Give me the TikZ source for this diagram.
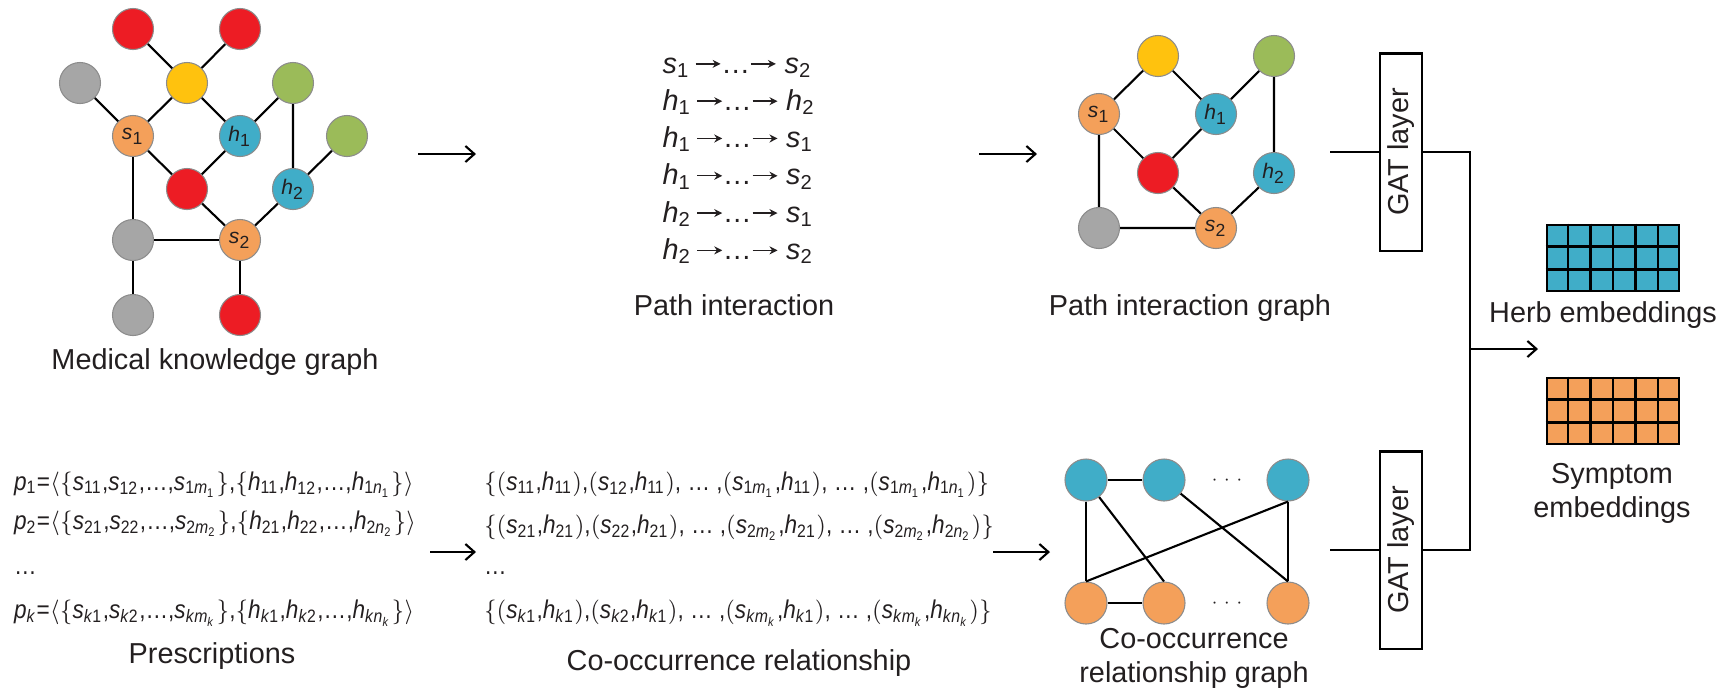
\documentclass[tikz,border=0pt]{standalone}
\usepackage{fontspec}
\setmainfont{Liberation Sans}
\usetikzlibrary{positioning, calc, arrows.meta}

\definecolor{cred}{HTML}{ED1C24}
\definecolor{cyellow}{HTML}{FFC20E}
\definecolor{cgray}{HTML}{A6A6A6}
\definecolor{cgreen}{HTML}{9BBB59}
\definecolor{corange}{HTML}{F4A05A}
\definecolor{cblue}{HTML}{40ADC8}
\definecolor{ctext}{HTML}{231F20}

\newcommand{\vs}[1]{\textit{s}\textsubscript{#1}}
\newcommand{\vh}[1]{\textit{h}\textsubscript{#1}}
\newcommand{\vp}[1]{\textit{p}\textsubscript{#1}}
\newcommand{\ix}[2]{\textit{#1}\textsubscript{#2}}
\newcommand{\sq}[1]{\scalebox{0.88}[1]{#1}}
\newcommand{\parr}{\tikz[baseline=-0.6ex, x=1cm, y=1cm]\draw[line width=0.4pt, -{Stealth[length=0.8mm, width=0.8mm]}] (0,0) -- (0.25,0);}

\tikzset{
  ent/.style={circle, draw=black!45, line width=0.3pt, minimum size=4.1mm, inner sep=0pt, font=\fontsize{6}{7}\selectfont},
  rednode/.style={ent, fill=cred},
  yellownode/.style={ent, fill=cyellow},
  graynode/.style={ent, fill=cgray},
  greennode/.style={ent, fill=cgreen},
  sympnode/.style={ent, fill=corange},
  herbnode/.style={ent, fill=cblue},
  lbl/.style={anchor=base, font=\fontsize{8.2}{9.6}\selectfont, align=center},
  row/.style={anchor=base west, inner sep=0pt, font=\fontsize{7.3}{8.5}\selectfont},
  gatbox/.style={draw, rotate=90, minimum width=1.97cm, minimum height=0.42cm, inner sep=0pt, font=\fontsize{8.2}{9.6}\selectfont},
  embbox/.style={draw, line width=0.8pt, minimum width=1.32cm, minimum height=0.66cm, inner sep=0pt}
}

\begin{document}
\begin{tikzpicture}[x=0.01cm, y=-0.01cm, line width=0.6pt, >={Straight Barb[length=0.9mm, width=1.6mm]},
  every node/.append style={text=ctext}]
    \useasboundingbox (0,0) rectangle (1733,690);

    % Medical knowledge graph
    \node[rednode] (kr1) at (133,29) {};
    \node[rednode] (kr2) at (240,29) {};
    \node[graynode] (kg1) at (80,83) {};
    \node[yellownode] (ky) at (187,83) {};
    \node[greennode] (kn1) at (293,83) {};
    \node[sympnode] (ks1) at (133,136) {\vs{1}};
    \node[herbnode] (kh1) at (240,136) {\vh{1}};
    \node[greennode] (kn2) at (347,136) {};
    \node[rednode] (kr3) at (187,189) {};
    \node[herbnode] (kh2) at (293,189) {\vh{2}};
    \node[graynode] (kg2) at (133,240) {};
    \node[sympnode] (ks2) at (240,240) {\vs{2}};
    \node[graynode] (kg3) at (133,315) {};
    \node[rednode] (kr4) at (240,315) {};
    \draw (kr1) -- (ky) -- (kr2);
    \draw (kg1) -- (ks1) -- (ky) -- (kh1) -- (kn1) -- (kh2) -- (kn2);
    \draw (ks1) -- (kr3) -- (kh1);
    \draw (kr3) -- (ks2) -- (kh2);
    \draw (ks1) -- (kg2) -- (ks2) -- (kr4);
    \draw (kg2) -- (kg3);
    \node[lbl] (kglabel) at (215,369) {Medical knowledge graph};

    % Path interaction
    \coordinate (a1s) at (418,154);
    \coordinate (a1e) at (476,154);
    \draw[->] (a1s) -- (a1e);
    \foreach \i/\a/\b in {1/\vs{1}/\vs{2}, 2/\vh{1}/\vh{2}, 3/\vh{1}/\vs{1},
                          4/\vh{1}/\vs{2}, 5/\vh{2}/\vs{1}, 6/\vh{2}/\vs{2}}
        \node[row, font=\fontsize{8.2}{9.6}\selectfont] (pi\i) at (662,{73+37.3*(\i-1)}) {\a\,\parr\ldots\parr\ \b};
    \node[lbl] (pilabel) at (734,315) {Path interaction};

    % Path interaction graph
    \coordinate (a2s) at (979,154);
    \coordinate (a2e) at (1037,154);
    \draw[->] (a2s) -- (a2e);
    \begin{scope}[every node/.append style={minimum size=4.4mm, font=\fontsize{6.2}{7}\selectfont}]
        \node[yellownode] (py) at (1158,56) {};
        \node[greennode] (pn) at (1274,56) {};
        \node[sympnode] (ps1) at (1099,114) {\vs{1}};
        \node[herbnode] (ph1) at (1216,114) {\vh{1}};
        \node[rednode] (pr) at (1158,173) {};
        \node[herbnode] (ph2) at (1274,173) {\vh{2}};
        \node[graynode] (pg) at (1099,228) {};
        \node[sympnode] (ps2) at (1216,228) {\vs{2}};
    \end{scope}
    \draw (ps1) -- (py) -- (ph1) -- (pn) -- (ph2) -- (ps2);
    \draw (ps1) -- (pr) -- (ph1);
    \draw (pr) -- (ps2) -- (pg) -- (ps1);
    \node[lbl] (piglabel) at (1190,315) {Path interaction graph};

    % Prescriptions
    \node[row] (pr1) at (13,490) {\sq{\vp{1}=$\langle\{$\vs{11},\vs{12},\ldots,\vs{1\ix{m}{1}}$\}$,$\{$\vh{11},\vh{12},\ldots,\vh{1\ix{n}{1}}$\}\rangle$}};
    \node[row] (pr2) at (13,529) {\sq{\vp{2}=$\langle\{$\vs{21},\vs{22},\ldots,\vs{2\ix{m}{2}}$\}$,$\{$\vh{21},\vh{22},\ldots,\vh{2\ix{n}{2}}$\}\rangle$}};
    \node[row] (pr3) at (13,574) {\sq{\ldots}};
    \node[row] (pr4) at (13,618) {\sq{\vp{\textit{k}}=$\langle\{$\vs{\textit{k}1},\vs{\textit{k}2},\ldots,\vs{\textit{k}\ix{m}{\textit{k}}}$\}$,$\{$\vh{\textit{k}1},\vh{\textit{k}2},\ldots,\vh{\textit{k}\ix{n}{\textit{k}}}$\}\rangle$}};
    \node[lbl] (prlabel) at (212,663) {Prescriptions};

    % Co-occurrence relationship
    \coordinate (a3s) at (430,552);
    \coordinate (a3e) at (476,552);
    \draw[->] (a3s) -- (a3e);
    \node[row] (co1) at (483,490) {\sq{$\{($\vs{11},\vh{11}$)$,$($\vs{12},\vh{11}$)$, \ldots\ ,$($\vs{1\ix{m}{1}},\vh{11}$)$, \ldots\ ,$($\vs{1\ix{m}{1}},\vh{1\ix{n}{1}}$)\}$}};
    \node[row] (co2) at (483,533) {\sq{$\{($\vs{21},\vh{21}$)$,$($\vs{22},\vh{21}$)$, \ldots\ ,$($\vs{2\ix{m}{2}},\vh{21}$)$, \ldots\ ,$($\vs{2\ix{m}{2}},\vh{2\ix{n}{2}}$)\}$}};
    \node[row] (co3) at (483,574) {\sq{\ldots}};
    \node[row] (co4) at (483,618) {\sq{$\{($\vs{\textit{k}1},\vh{\textit{k}1}$)$,$($\vs{\textit{k}2},\vh{\textit{k}1}$)$, \ldots\ ,$($\vs{\textit{k}\ix{m}{\textit{k}}},\vh{\textit{k}1}$)$, \ldots\ ,$($\vs{\textit{k}\ix{m}{\textit{k}}},\vh{\textit{k}\ix{n}{\textit{k}}}$)\}$}};
    \node[lbl] (colabel) at (739,670) {Co-occurrence relationship};

    % Co-occurrence relationship graph
    \coordinate (a4s) at (993,552);
    \coordinate (a4e) at (1050,552);
    \draw[->] (a4s) -- (a4e);
    \node[herbnode, minimum size=4.2mm] (cb1) at (1086,480) {};
    \node[herbnode, minimum size=4.2mm] (cb2) at (1164,480) {};
    \node[font=\fontsize{5}{6}\selectfont] (cd1) at (1227,480) {$\cdots$};
    \node[herbnode, minimum size=4.2mm] (cb3) at (1288,480) {};
    \node[sympnode, minimum size=4.2mm] (cs1) at (1086,603) {};
    \node[sympnode, minimum size=4.2mm] (cs2) at (1164,603) {};
    \node[font=\fontsize{5}{6}\selectfont] (cd2) at (1227,603) {$\cdots$};
    \node[sympnode, minimum size=4.2mm] (cs3) at (1288,603) {};
    \draw (cb1) -- (cb2);
    \draw (cs1) -- (cs2);
    \draw (cb1.south) -- (cs1.north);
    \draw (cb1) -- (cs2.north);
    \draw (cb2) -- (cs3.north);
    \draw (cb3.south) -- (cs1.north);
    \draw (cb3.south) -- (cs3.north);
    \node[lbl] (coglabel) at (1194,682) {Co-occurrence\\relationship graph};

    % GAT layers
    \node[gatbox] (gat1) at (1401,152) {GAT layer};
    \node[gatbox] (gat2) at (1401,550) {GAT layer};
    \coordinate (g1in) at (1330,152);
    \coordinate (g2in) at (1330,550);
    \coordinate (j1) at (1470,152);
    \coordinate (j2) at (1470,550);
    \coordinate (jm) at (1470,349);
    \coordinate (emb) at (1538,349);
    \draw (g1in) -- (gat1);
    \draw (g2in) -- (gat2);
    \draw (gat1) -- (j1) -- (j2) -- (gat2);
    \draw[->] (jm) -- (emb);

    % Embeddings
    \node[embbox, fill=cblue] (herbemb) at (1613,258) {};
    \node[embbox, fill=corange] (sympemb) at (1613,411) {};
    \foreach \e in {herbemb, sympemb} {
        \foreach \k in {1,...,5}
            \draw[line width=0.8pt] ($(\e.north west)!\k/6!(\e.north east)$) -- ($(\e.south west)!\k/6!(\e.south east)$);
        \foreach \k in {1,2}
            \draw[line width=0.8pt] ($(\e.north west)!\k/3!(\e.south west)$) -- ($(\e.north east)!\k/3!(\e.south east)$);
    }
    \node[lbl] (herblabel) at (1603,322) {Herb embeddings};
    \node[lbl] (symplabel) at (1612,517) {Symptom\\embeddings};
\end{tikzpicture}
\end{document}
